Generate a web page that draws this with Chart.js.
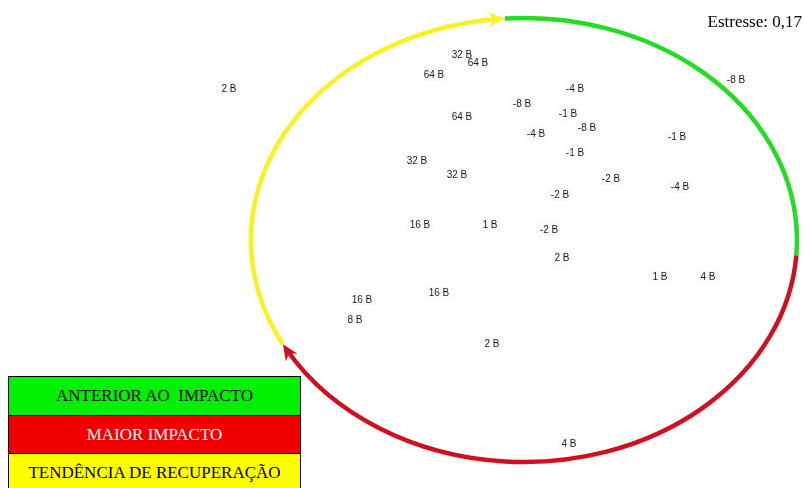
<!DOCTYPE html>
<html>
<head>
<meta charset="utf-8">
<script src="https://cdn.jsdelivr.net/npm/chart.js@4/dist/chart.umd.min.js"></script>
<style>
  html, body { margin: 0; padding: 0; background: #fff; }
  #wrap { position: relative; width: 803px; height: 488px; overflow: hidden; }
  #stress {
    position: absolute; right: 1px; top: 12px; line-height: 19px;
    font: 17px "Liberation Serif", "Times New Roman", serif; color: #000;
  }
  #key {
    position: absolute; left: 8px; top: 376px; width: 293px;
    box-sizing: border-box; border: 1.5px solid #000; border-bottom: none;
    font-family: "Liberation Serif", "Times New Roman", serif; font-size: 17px;
  }
  #key div {
    box-sizing: border-box; height: 38.5px; line-height: 37px; text-align: center;
    white-space: pre; border-bottom: 1.5px solid #000;
  }
</style>
</head>
<body>
<div id="wrap">
  <canvas id="mds"></canvas>
  <div id="stress">Estresse: 0,17</div>
  <div id="key">
    <div style="background:#00f000;color:#000">ANTERIOR AO  IMPACTO</div>
    <div style="background:#f00000;color:#fff">MAIOR IMPACTO</div>
    <div style="background:#ffff00;color:#000;height:40px">TENDÊNCIA DE RECUPERAÇÃO</div>
  </div>
</div>
<script>
// Sample labels (station/date codes) and their MDS ordination coordinates
const sampleLabels = [
  "2 B", "32 B", "64 B", "64 B", "-4 B", "-8 B", "-1 B", "-8 B", "64 B", "-4 B",
  "-1 B", "-1 B", "-8 B", "32 B", "32 B", "-2 B", "-4 B", "-2 B", "16 B", "1 B",
  "-2 B", "2 B", "1 B", "4 B", "16 B", "16 B", "8 B", "2 B", "4 B"
];
const dim1 = [
  -2.95, -0.62, -0.46, -0.90, 0.51, -0.02, 0.44, 0.63, -0.62, 0.12,
   0.51,  1.53,  2.12, -1.07, -0.67, 0.87, 1.56, 0.36, -1.04, -0.34,
   0.25,  0.38,  1.36,  1.84, -0.85, -1.62, -1.69, -0.32, 0.45
];
const dim2 = [
   1.51, 1.85, 1.77, 1.65, 1.51, 1.36, 1.26, 1.12, 1.23, 1.06,
   0.87, 1.03, 1.60, 0.79, 0.65, 0.61, 0.53, 0.45, 0.15, 0.15,
   0.10, -0.18, -0.37, -0.37, -0.53, -0.60, -0.80, -1.04, -2.04
];

// Trajectory ellipse in ordination units, and its three phases (angles in degrees, screen clockwise)
const trajectoryCenter = { x: 0, y: 0 };
const trajectoryRadii = { x: 2.73, y: 2.22 };
const phases = [
  { name: "ANTERIOR AO IMPACTO", from: -94, to: 4, color: "#22dd22", arrow: false },
  { name: "MAIOR IMPACTO", from: 4, to: 152, color: "#d01020", arrow: true },
  { name: "TENDÊNCIA DE RECUPERAÇÃO", from: 152, to: 266, color: "#f6f223", arrow: true }
];

const points = dim1.map((x, i) => ({ x: x, y: dim2[i] }));

const trajectoryPlugin = {
  id: "trajectory",
  beforeDatasetsDraw(chart) {
    const { ctx, scales } = chart;
    const cx = scales.x.getPixelForValue(trajectoryCenter.x);
    const cy = scales.y.getPixelForValue(trajectoryCenter.y);
    const rx = Math.abs(scales.x.getPixelForValue(trajectoryCenter.x + trajectoryRadii.x) - cx);
    const ry = Math.abs(scales.y.getPixelForValue(trajectoryCenter.y + trajectoryRadii.y) - cy);
    const rad = d => d * Math.PI / 180;
    ctx.save();
    ctx.lineWidth = 4.5;
    ctx.lineCap = "butt";
    phases.forEach(p => {
      const end = p.arrow ? p.to - 1.5 : p.to;
      ctx.strokeStyle = p.color;
      ctx.beginPath();
      ctx.ellipse(cx, cy, rx, ry, 0, rad(p.from), rad(end), false);
      ctx.stroke();
      if (p.arrow) {
        const t = rad(p.to);
        const tipX = cx + rx * Math.cos(t);
        const tipY = cy + ry * Math.sin(t);
        const dx = -rx * Math.sin(t), dy = ry * Math.cos(t);
        const len = Math.hypot(dx, dy);
        const ux = dx / len, uy = dy / len;
        const L = 16, W = 7;
        ctx.fillStyle = p.color;
        ctx.beginPath();
        ctx.moveTo(tipX, tipY);
        ctx.lineTo(tipX - ux * L - uy * W, tipY - uy * L + ux * W);
        ctx.lineTo(tipX - ux * L * 0.7, tipY - uy * L * 0.7);
        ctx.lineTo(tipX - ux * L + uy * W, tipY - uy * L - ux * W);
        ctx.closePath();
        ctx.fill();
      }
    });
    ctx.restore();
  },
  afterDatasetsDraw(chart) {
    const { ctx } = chart;
    const meta = chart.getDatasetMeta(0);
    ctx.save();
    ctx.font = '10px "Liberation Sans", Arial, sans-serif';
    ctx.textAlign = "center";
    ctx.textBaseline = "middle";
    meta.data.forEach((el, i) => {
      const txt = sampleLabels[i];
      const w = ctx.measureText(txt).width;
      ctx.fillStyle = "rgba(0,0,0,0.018)";
      ctx.fillRect(el.x - w / 2 - 3, el.y - 7, w + 6, 14);
      ctx.fillStyle = "#1a1a1a";
      ctx.fillText(txt, el.x, el.y + 0.5);
    });
    ctx.restore();
  }
};

new Chart(document.getElementById("mds"), {
  type: "scatter",
  data: {
    datasets: [{
      label: "Amostras",
      data: points,
      pointRadius: 0,
      pointHoverRadius: 0
    }]
  },
  options: {
    responsive: true,
    maintainAspectRatio: false,
    animation: false,
    layout: { padding: 0 },
    plugins: { legend: { display: false }, tooltip: { enabled: false } },
    scales: {
      x: { type: "linear", min: -5.24, max: 2.79, display: false },
      y: { type: "linear", min: -2.48, max: 2.40, display: false }
    }
  },
  plugins: [trajectoryPlugin]
});
</script>
</body>
</html>
